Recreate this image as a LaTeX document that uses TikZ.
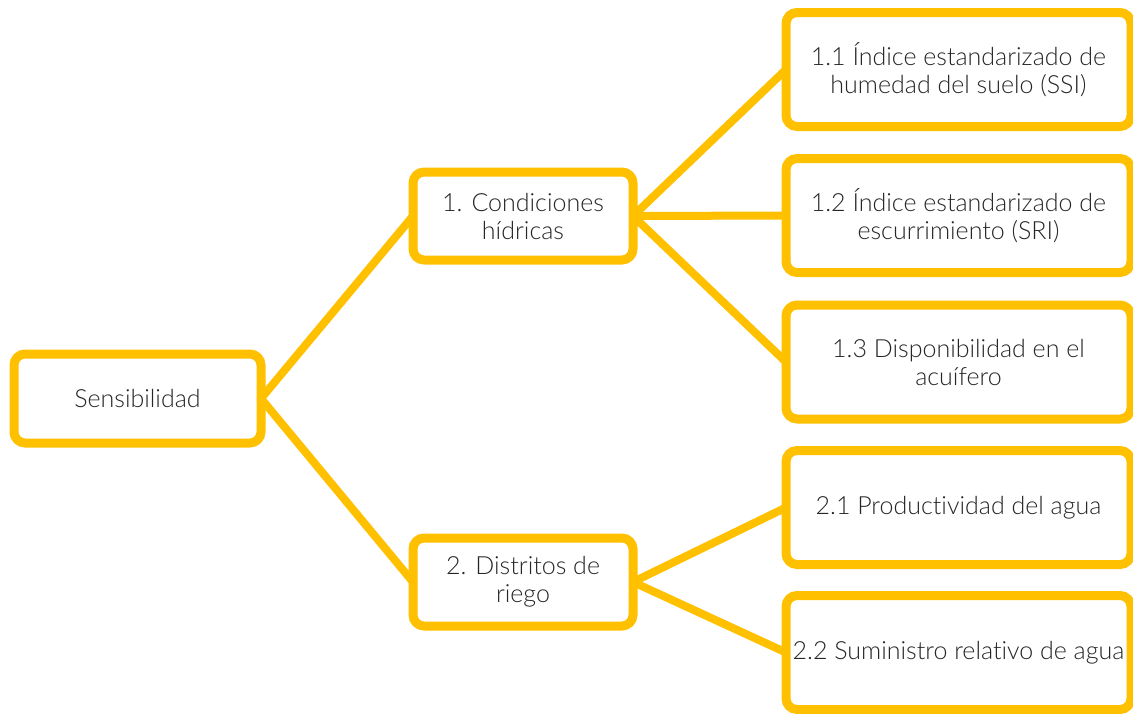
\documentclass[tikz,border=0pt]{standalone}
\usepackage{fontspec}
\setmainfont{Lato}[UprightFont={* Light},Ligatures=NoCommon]
\definecolor{gold}{RGB}{255,192,0}
\definecolor{ink}{RGB}{38,38,38}
\begin{document}
\begin{tikzpicture}[x=1pt,y=-1pt,
  box/.style={draw=gold,line width=9pt,fill=white,rounded corners=11pt,
    outer sep=0pt,inner sep=0pt,align=center,text=ink,
    font=\fontsize{25}{28}\selectfont},
  leaf/.style={box,minimum width=345pt,minimum height=114pt},
  link/.style={draw=gold,line width=8pt}]
\useasboundingbox (0,0) rectangle (1133,713);
\clip (0,0) rectangle (1133,713);
% root and first level
\node[box,minimum width=247pt,minimum height=89pt] (root) at (137.5,398.5) {Sensibilidad};
\node[box,minimum width=220pt,minimum height=88pt] (hid) at (523,216) {1. Condiciones\\hídricas};
\node[box,minimum width=220pt,minimum height=88pt] (rie) at (523,582) {2. Distritos de\\riego};
% second level
\node[leaf] (ssi) at (958.5,69.5) {1.1 Índice estandarizado de\\humedad del suelo (SSI)};
\node[leaf] (sri) at (958.5,215.5) {1.2 Índice estandarizado de\\escurrimiento (SRI)};
\node[leaf] (acu) at (958.5,362) {1.3 Disponibilidad en el\\acuífero};
\node[leaf] (pro) at (958.5,507.5) {2.1 Productividad del agua};
\node[leaf] (sum) at (958.5,652.5) {2.2 Suministro relativo de agua};
% connectors
\draw[link] (root.east) -- (hid.west);
\draw[link] (root.east) -- (rie.west);
\draw[link] (hid.east) -- (ssi.west);
\draw[link] (hid.east) -- (sri.west);
\draw[link] (hid.east) -- (acu.west);
\draw[link] (rie.east) -- (pro.west);
\draw[link] (rie.east) -- (sum.west);
\end{tikzpicture}
\end{document}
